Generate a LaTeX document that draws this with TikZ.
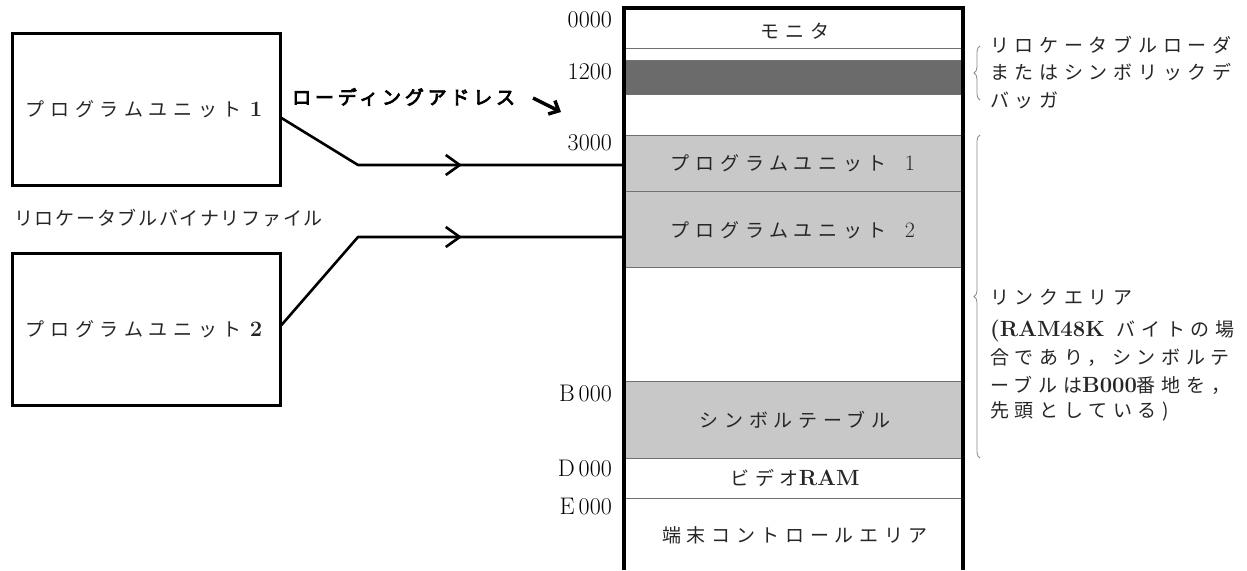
\documentclass[tikz,border=0pt]{standalone}
\usepackage{fontspec}
\newfontfamily\jp[LetterSpace=30]{Noto Sans CJK JP}
\newfontfamily\jpn[LetterSpace=9]{Noto Sans CJK JP}
\newfontfamily\jpb[LetterSpace=20,FakeBold=4]{Noto Sans CJK JP}
\usetikzlibrary{arrows.meta,decorations.pathreplacing}
\definecolor{band}{HTML}{C8C8C8}
\definecolor{darkband}{HTML}{6B6B6B}
\definecolor{sepline}{HTML}{707070}
\definecolor{brc}{HTML}{8A8A8A}
\newcommand{\jsz}{\fontsize{19}{27}\selectfont}
\newcommand{\nsz}{\fontsize{24}{27}\selectfont}
\newcommand{\lat}[1]{{\rmfamily\fontsize{22}{27}\selectfont #1}}
\tikzset{
  jtext/.style={font=\jp\jsz, inner sep=0pt, text=black!85},
  addr/.style={font=\nsz, anchor=east, inner sep=0pt},
  progbox/.style={draw, line width=3pt, minimum width=268pt, minimum height=152pt, inner sep=0pt},
  conn/.style={line width=2.6pt},
  midarrow/.style={line width=2.6pt, -{Straight Barb[length=14pt,width=20pt,line width=2.6pt]}},
  bracestyle/.style={draw=brc, line width=0.8pt, decorate, decoration={brace, amplitude=6pt}},
  sepstyle/.style={draw=sepline, line width=1pt},
  rtext/.style={font=\jp\jsz, inner sep=0pt, anchor=west, text=black!85}
}
\begin{document}
\begin{tikzpicture}[x=1pt,y=-1pt]
\useasboundingbox (0,0) rectangle (1247,570);
\fill[white] (0,0) rectangle (1247,570);

% memory bands
\fill[darkband] (624,60) rectangle (963,94);
\fill[band] (624,135) rectangle (963,191);
\fill[band] (624,191) rectangle (963,267);
\fill[band] (624,381) rectangle (963,458);
\foreach \yy in {48,60,94,135,191,267,381,458,498}
  \draw[sepstyle] (624,\yy) -- (963,\yy);
\draw[line width=3.5pt] (624,570) -- (624,8) -- (963,8) -- (963,570);

% band labels
\node[jtext] (mon) at (795,31) {モニタ};
\node[jtext] (pu1) at (793,163) {プログラムユニット\hspace{18pt}\lat{1}};
\node[jtext] (pu2) at (793,230) {プログラムユニット\hspace{18pt}\lat{2}};
\node[jtext] (sym) at (795,420) {シンボルテーブル};
\node[jtext] (vram) at (795,478) {ビデオ\lat{\bfseries RAM}};
\node[jtext] (term) at (795,535) {端末コントロールエリア};

% addresses
\node[addr] (a0) at (612,20) {0000};
\node[addr] (a1) at (612,72) {1200};
\node[addr] (a3) at (612,143) {3000};
\node[addr] (ab) at (612,393) {B\,000};
\node[addr] (ad) at (612,468) {D\,000};
\node[addr] (ae) at (612,507) {E\,000};

% program unit boxes
\node[progbox] (b1) at (146,109) {};
\node[progbox] (b2) at (146,329) {};
\node[jtext] (b1t) at (144,109) {プログラムユニット\hspace{8pt}\lat{\bfseries 1}};
\node[jtext] (b2t) at (144,329) {プログラムユニット\hspace{8pt}\lat{\bfseries 2}};
\node[jtext, font=\jpn\jsz, anchor=west] (rb) at (14,218) {リロケータブルバイナリファイル};

% connectors
\coordinate (s1) at ([yshift=-9pt]b1.east);
\coordinate (k1) at (358,165);
\coordinate (h1) at (462,165);
\coordinate (m1) at (624,165);
\coordinate (s2) at ([yshift=4pt]b2.east);
\coordinate (k2) at (358,237);
\coordinate (h2) at (462,237);
\coordinate (m2) at (624,237);
\draw[conn, line join=round] (s1) -- (k1) -- (m1);
\draw[midarrow] (k1) -- (h1);
\draw[conn, line join=round] (s2) -- (k2) -- (m2);
\draw[midarrow] (k2) -- (h2);

% loading address label
\node[font=\jpb\jsz, inner sep=0pt, anchor=west] (la) at (292,97) {ローディングアドレス};
\coordinate (la1) at (533,98);
\coordinate (la2) at (561,112);
\draw[line width=3.5pt, -{Straight Barb[length=8pt,width=15pt,line width=3.5pt]}] (la1) -- (la2);

% right braces and notes
\draw[bracestyle] (980,100) -- (980,46);
\draw[bracestyle] (980,458) -- (980,135);
\node[rtext] (r1) at (990,45) {リロケータブルローダ};
\node[rtext] (r2) at (990,72) {またはシンボリックデ};
\node[rtext] (r3) at (990,100) {バッガ};
\node[rtext] (r4) at (990,297) {リンクエリア};
\node[rtext] (r5) at (990,331) {\lat{\bfseries (RAM48K}\hspace{12pt}バイトの場};
\node[rtext] (r6) at (990,358) {合であり，シンボルテ};
\node[rtext] (r7) at (990,385) {ーブルは\lat{\bfseries B000}番地を，};
\node[rtext] (r8) at (990,411) {先頭としている)};
\end{tikzpicture}
\end{document}
